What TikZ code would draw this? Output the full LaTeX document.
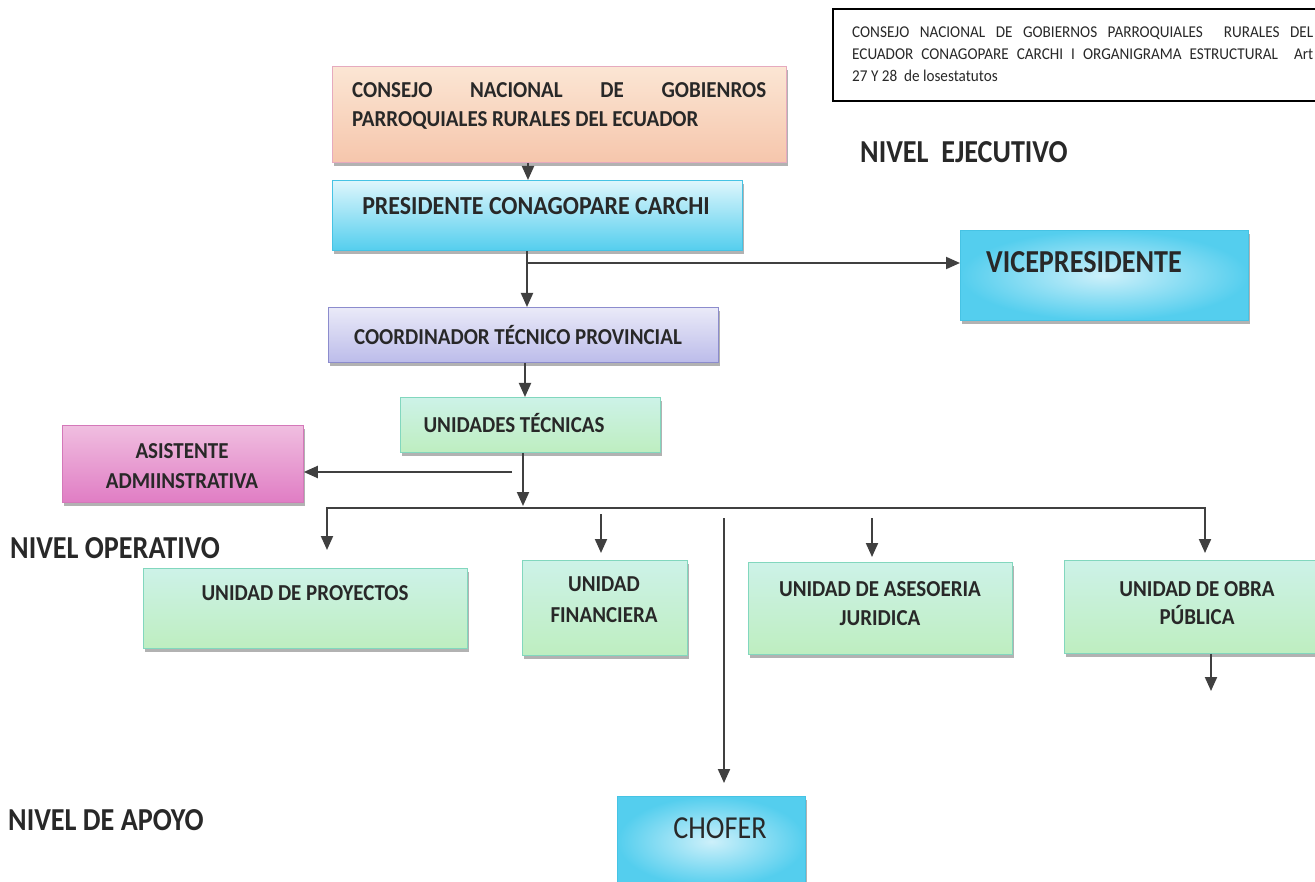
\documentclass[tikz,border=0pt]{standalone}
\usepackage{fontspec}
\setmainfont{Carlito}
\newfontfamily\condfont[FakeStretch=0.92]{Carlito}
\newfontfamily\narrowfont[FakeStretch=0.88]{Carlito}
\usetikzlibrary{arrows.meta,shadows}
\definecolor{txtgray}{RGB}{40,40,40}
\definecolor{arrgray}{RGB}{64,64,64}
\definecolor{peachT}{RGB}{251,230,212}
\definecolor{peachB}{RGB}{246,198,172}
\definecolor{peachD}{RGB}{230,170,190}
\definecolor{cyanT}{RGB}{222,246,252}
\definecolor{cyanB}{RGB}{84,206,238}
\definecolor{cyanD}{RGB}{70,195,228}
\definecolor{cyanL}{RGB}{205,240,250}
\definecolor{lavT}{RGB}{234,234,248}
\definecolor{lavB}{RGB}{188,188,234}
\definecolor{lavD}{RGB}{140,140,205}
\definecolor{mintT}{RGB}{205,242,232}
\definecolor{mintM}{RGB}{242,250,248}
\definecolor{mintB}{RGB}{190,238,192}
\definecolor{mintD}{RGB}{130,215,190}
\definecolor{pinkT}{RGB}{240,190,224}
\definecolor{pinkM}{RGB}{250,232,243}
\definecolor{pinkB}{RGB}{224,125,196}
\definecolor{pinkD}{RGB}{212,120,185}
\begin{document}
\begin{tikzpicture}[x=1pt,y=-1pt,
  box/.style={draw, line width=0.8pt, anchor=north west, inner sep=0pt,
    drop shadow={shadow xshift=2pt, shadow yshift=-4pt, fill=black!55, opacity=.55}},
  peachbox/.style={box, draw=peachD, top color=peachT, bottom color=peachB},
  cyanbox/.style={box, draw=cyanD, top color=cyanT, bottom color=cyanB},
  cyanradial/.style={box, draw=cyanD, inner color=cyanL, outer color=cyanB},
  lavbox/.style={box, draw=lavD, top color=lavT, bottom color=lavB},
  mintbox/.style={box, draw=mintD, top color=mintT, middle color=mintM, bottom color=mintB},
  pinkbox/.style={box, draw=pinkD, top color=pinkT, middle color=pinkM, bottom color=pinkB},
  lbl/.style={text=txtgray, font=\condfont\bfseries\fontsize{22.8}{29}\selectfont, align=center, inner sep=0pt},
  biglbl/.style={text=txtgray, font=\narrowfont\bfseries\fontsize{32}{34}\selectfont, inner sep=0pt, anchor=west},
  arr/.style={draw=arrgray, line width=2pt, -{Triangle[width=12pt,length=14pt]}},
  ]
\useasboundingbox (0,0) rectangle (1315,882);
\fill[white] (0,0) rectangle (1315,882);
\clip (0,0) rectangle (1315,882);

% title box
\node[draw=black, line width=1.6pt, anchor=north west, minimum width=520pt, minimum height=92pt, inner sep=0pt] (title) at (832,8) {};
\node[anchor=west, align=left, inner sep=0pt, text=txtgray, font=\condfont\fontsize{16.5}{22}\selectfont] (titleT) at (852,54)
  {\makebox[461pt][s]{CONSEJO NACIONAL DE GOBIERNOS PARROQUIALES\ \ RURALES DEL}\\
   \makebox[461pt][s]{ECUADOR CONAGOPARE CARCHI I ORGANIGRAMA ESTRUCTURAL\ \ Art}\\
   27 Y 28\ \ de losestatutos};

% boxes
\node[peachbox, minimum width=454pt, minimum height=96pt] (consejo) at (332,66) {};
\node[cyanbox, minimum width=410pt, minimum height=70pt] (pres) at (332,180) {};
\node[cyanradial, minimum width=288pt, minimum height=90pt] (vice) at (960,230) {};
\node[lavbox, minimum width=390pt, minimum height=55pt] (coord) at (328,307) {};
\node[mintbox, minimum width=260pt, minimum height=55pt] (ut) at (400,397) {};
\node[pinkbox, minimum width=241pt, minimum height=77pt] (asist) at (62,425) {};
\node[mintbox, minimum width=324pt, minimum height=80pt] (proy) at (143,568) {};
\node[mintbox, minimum width=165pt, minimum height=95pt] (fin) at (522,560) {};
\node[mintbox, minimum width=264pt, minimum height=92pt] (jur) at (748,562) {};
\node[mintbox, minimum width=270pt, minimum height=93pt] (obra) at (1064,560) {};
\node[cyanradial, minimum width=188pt, minimum height=90pt] (chofer) at (617,796) {};

% box texts
\node[lbl, anchor=west, align=left] (consejoT) at (352,106)
  {\makebox[414pt]{CONSEJO\hfill NACIONAL\hfill DE\hfill GOBIENROS}\\PARROQUIALES RURALES DEL ECUADOR};
\node[lbl, font=\condfont\bfseries\fontsize{26}{29}\selectfont] (presT) at (536,206) {PRESIDENTE CONAGOPARE CARCHI};
\node[lbl, font=\narrowfont\bfseries\fontsize{32}{34}\selectfont] (viceT) at (1084,262) {VICEPRESIDENTE};
\node[lbl] (coordT) at (518,335) {COORDINADOR TÉCNICO PROVINCIAL};
\node[lbl] (utT) at (514,423) {UNIDADES TÉCNICAS};
\node[lbl, font=\condfont\bfseries\fontsize{22.8}{30}\selectfont] (asistT) at (182,466) {ASISTENTE\\ADMIINSTRATIVA};
\node[lbl] (proyT) at (305,593) {UNIDAD DE PROYECTOS};
\node[lbl, font=\condfont\bfseries\fontsize{22.8}{31}\selectfont] (finT) at (604,600) {UNIDAD\\FINANCIERA};
\node[lbl] (jurT) at (880,604) {UNIDAD DE ASESOERIA\\JURIDICA};
\node[lbl, font=\condfont\bfseries\fontsize{22.8}{28}\selectfont] (obraT) at (1197,603) {UNIDAD DE OBRA\\PÚBLICA};
\node[lbl, font=\narrowfont\fontsize{32}{34}\selectfont] (chofT) at (720,828) {CHOFER};

% level labels
\node[biglbl] (ejec) at (860,152) {NIVEL\ \ EJECUTIVO};
\node[biglbl] (oper) at (10,548) {NIVEL OPERATIVO};
\node[biglbl] (apoyo) at (8,820) {NIVEL DE APOYO};

% connector coordinates
\coordinate (c1) at (528,0);
\coordinate (c2) at (527,0);
\coordinate (c3) at (525,0);
\coordinate (b1) at (527,263);
\coordinate (bar) at (523,506);
\coordinate (b2) at (512,472);
\coordinate (barL) at (327,508);
\coordinate (barR) at (1205,508);
\coordinate (tipL) at (327,550);
\coordinate (tipR) at (1205,553);
\coordinate (s1) at (601,514);
\coordinate (t1) at (601,553);
\coordinate (s2) at (872,518);
\coordinate (t2) at (872,557);
\coordinate (s3) at (724,518);
\coordinate (t3) at (724,783);
\coordinate (s4) at (1211,0);
\coordinate (t4) at (1211,691);

% connectors
\draw[arr] (consejo.south -| c1) -- (pres.north -| c1);
\draw[arr] (pres.south -| c2) -- (coord.north -| c2);
\draw[arr] (b1) -- (vice.west |- b1);
\draw[arr] (coord.south -| c3) -- (ut.north -| c3);
\draw[arr] (ut.south -| bar) -- (bar);
\draw[arr] (b2) -- (asist.east |- b2);
\draw[draw=arrgray, line width=2pt, {Triangle[width=12pt,length=14pt]}-{Triangle[width=12pt,length=14pt]}] (tipL) -- (barL) -- (barR) -- (tipR);
\draw[arr] (s1) -- (t1);
\draw[arr] (s2) -- (t2);
\draw[arr] (s3) -- (t3);
\draw[arr] (obra.south -| s4) -- (t4);
\end{tikzpicture}
\end{document}
